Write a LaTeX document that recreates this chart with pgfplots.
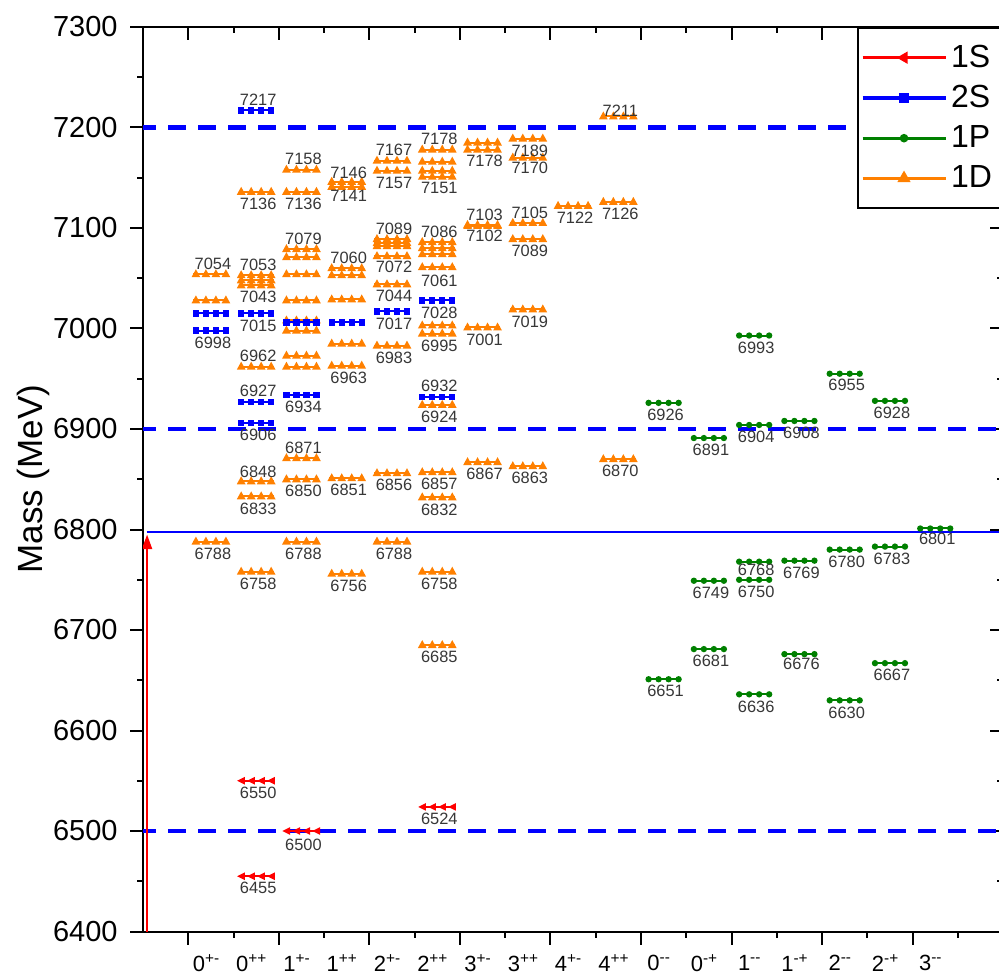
\documentclass[border=0pt]{standalone}
\usepackage{fontspec}
\setmainfont{Liberation Sans}
\usepackage{pgfplots}
\pgfplotsset{compat=1.18}
\usepackage{pgfplotstable}
\usetikzlibrary{arrows.meta}

\definecolor{cRed}{RGB}{255,0,0}
\definecolor{cBlue}{RGB}{0,0,255}
\definecolor{cGreen}{RGB}{0,128,0}
\definecolor{cOrange}{RGB}{255,128,0}
\definecolor{labgray}{RGB}{55,55,55}

\newcommand\labfont{\fontsize{8.2}{9}\selectfont}
\newcommand\lvline{\pgfsetlinewidth{1pt}\pgfpathmoveto{\pgfqpoint{-8.75pt}{0pt}}\pgfpathlineto{\pgfqpoint{8.75pt}{0pt}}\pgfusepathqstroke}
\newcommand\lvtri[1]{\pgfpathmoveto{\pgfpoint{#1pt-2.2pt}{-1.5pt}}\pgfpathlineto{\pgfpoint{#1pt+2.2pt}{-1.5pt}}\pgfpathlineto{\pgfpoint{#1pt}{2.5pt}}\pgfpathclose\pgfusepathqfill}
\newcommand\lvsq[1]{\pgfpathrectangle{\pgfpoint{#1pt-1.6pt}{-1.6pt}}{\pgfqpoint{3.2pt}{3.2pt}}\pgfusepathqfill}
\newcommand\lvci[1]{\pgfpathcircle{\pgfpoint{#1pt}{0pt}}{1.6pt}\pgfusepathqfill}
\newcommand\lvtl[1]{\pgfpathmoveto{\pgfpoint{#1pt-2.0pt}{0pt}}\pgfpathlineto{\pgfpoint{#1pt+1.8pt}{1.9pt}}\pgfpathlineto{\pgfpoint{#1pt+1.8pt}{-1.9pt}}\pgfpathclose\pgfusepathqfill}
\pgfdeclareplotmark{lvD}{\lvline\lvtri{-7.5}\lvtri{-2.5}\lvtri{2.5}\lvtri{7.5}}
\pgfdeclareplotmark{lvS}{\lvline\lvsq{-7.5}\lvsq{-2.5}\lvsq{2.5}\lvsq{7.5}}
\pgfdeclareplotmark{lvP}{\lvline\lvci{-7.5}\lvci{-2.5}\lvci{2.5}\lvci{7.5}}
\pgfdeclareplotmark{lvR}{\lvline\lvtl{-7.5}\lvtl{-2.5}\lvtl{2.5}\lvtl{7.5}}

% ---- 1D levels (x = category index, y = mass in MeV)
\pgfplotstableread{
x y
1 7054
1 7028
1 6788
2 7136
2 7053
2 7048
2 7043
2 6962
2 6848
2 6833
2 6758
3 7158
3 7136
3 7079
3 7071
3 7054
3 7028
3 7008
3 6998
3 6973
3 6962
3 6871
3 6850
3 6788
4 7146
4 7141
4 7060
4 7053
4 7029
4 6985
4 6963
4 6851
4 6756
5 7167
5 7157
5 7089
5 7085
5 7082
5 7072
5 7044
5 6983
5 6856
5 6788
6 7178
6 7166
6 7157
6 7151
6 7086
6 7080
6 7074
6 7061
6 7003
6 6995
6 6924
6 6857
6 6832
6 6758
6 6685
7 7185
7 7178
7 7103
7 7102
7 7001
7 6867
8 7189
8 7170
8 7105
8 7089
8 7019
8 6863
9 7122
10 7211
10 7126
10 6870
}\tabD
% labelled 1D levels; off = label offset in MeV
\pgfplotstableread{
x y off
1 7054 10.5
1 6788 -12
2 7136 -12
2 7053 10.5
2 7043 -12
2 6962 10.5
2 6848 9
2 6833 -12
2 6758 -12
3 7158 10.5
3 7136 -12
3 7079 10.5
3 6871 10.5
3 6850 -12
3 6788 -12
4 7146 9
4 7141 -9
4 7060 10.5
4 6963 -12
4 6851 -12
4 6756 -12
5 7167 10.5
5 7157 -12
5 7089 10.5
5 7072 -10.5
5 7044 -12
5 6983 -12
5 6856 -12
5 6788 -12
6 7178 10.5
6 7151 -11
6 7086 10.5
6 7061 -14
6 6995 -12
6 6924 -12
6 6857 -12
6 6832 -12
6 6758 -12
6 6685 -12
7 7178 -11
7 7103 10.5
7 7102 -10
7 7001 -12
7 6867 -12
8 7189 -12
8 7170 -10.5
8 7105 10.5
8 7089 -12
8 7019 -12
8 6863 -12
9 7122 -12
10 7211 6
10 7126 -12
10 6870 -12
}\labD

% ---- 2S levels
\pgfplotstableread{
x y
1 7015
1 6998
2 7217
2 7015
2 6927
2 6906
3 7006
3 6934
4 7006
5 7017
6 7028
6 6932
}\tabS
\pgfplotstableread{
x y off
1 6998 -12
2 7217 10.5
2 7015 -12
2 6927 10.5
2 6906 -12
3 6934 -12
5 7017 -12
6 7028 -12
6 6932 10.5
}\labS

% ---- 1P levels
\pgfplotstableread{
x y off
11 6926 -12
11 6651 -12
12 6891 -12
12 6749 -12
12 6681 -12
13 6993 -12
13 6904 -12
13 6768 -8.4
13 6750 -12
13 6636 -12
14 6908 -12
14 6769 -12
14 6676 -10
15 6955 -11
15 6780 -12
15 6630 -12
16 6928 -12
16 6783 -12
16 6667 -12
17 6801 -10.5
}\tabP

% ---- 1S levels
\pgfplotstableread{
x y off
2 6550 -12
2 6455 -12
3 6500 -14
6 6524 -12
}\tabR

\pgfplotsset{
  labplot/.style={
    forget plot, only marks, mark=none,
    point meta=explicit symbolic,
    nodes near coords,
    every node near coord/.append style={anchor=center, xshift=1pt, text=labgray, font=\labfont, inner sep=0pt},
  },
  geom/.style={
    at={(71.5pt,22.25pt)}, anchor=south west,
    x=22.635pt, y=0.5025pt,
    xmin=-0.5, xmax=18.5, ymin=6400, ymax=7300,
    xtick={0.5,2.5,...,16.5}, minor xtick={1.5,3.5,...,17.5},
    ytick={6400,6500,...,7300}, minor y tick num=1,
    major tick length=6.5pt, minor tick length=3pt,
    every tick/.style={black, line width=1pt},
  },
}

\begin{document}
\begin{tikzpicture}
\path[use as bounding box] (0,0) rectangle (499.5pt,488pt);
% top/right ticks pointing inwards
\begin{axis}[geom, xtick pos=right, ytick pos=right, tick align=inside,
  xticklabels={}, yticklabels={}, axis line style={draw=none}]
\end{axis}
\begin{axis}[geom, xtick pos=left, ytick pos=left, tick align=outside,
  axis line style={line width=1pt},
  xticklabels={},
  extra x ticks={1,...,17},
  extra x tick labels={0\textsuperscript{+-},0\textsuperscript{++},1\textsuperscript{+-},1\textsuperscript{++},2\textsuperscript{+-},2\textsuperscript{++},3\textsuperscript{+-},3\textsuperscript{++},4\textsuperscript{+-},4\textsuperscript{++},0\textsuperscript{-{}-},0\textsuperscript{-+},1\textsuperscript{-{}-},1\textsuperscript{-+},2\textsuperscript{-{}-},2\textsuperscript{-+},3\textsuperscript{-{}-}},
  extra x tick style={major tick length=0pt, xticklabel style={anchor=north, inner sep=0pt, yshift=-11.5pt, xshift=-2.2pt, font=\fontsize{11}{13}\selectfont}},
  yticklabel style={anchor=east, inner sep=0pt, xshift=-6pt, font=\fontsize{14.5}{17}\selectfont},
  /pgf/number format/.cd, set thousands separator={}, assume math mode=true, /pgfplots/.cd,
  ylabel={Mass (MeV)},
  ylabel style={at={(axis description cs:-0.1174,0.5)}, anchor=base, font=\fontsize{17.5}{20}\selectfont},
  legend style={at={(0.830,1)}, anchor=north west, draw=black, line width=1pt, fill=white,
    inner xsep=1.5pt, inner ysep=6.5pt, font=\fontsize{16}{16}\selectfont,
    row sep=3.5pt},
  legend cell align=left,
  legend image code/.code={\draw[mark repeat=2, mark phase=2] plot coordinates {(0pt,0pt) (20.75pt,0pt) (41.5pt,0pt)};},
]
\addlegendimage{cRed, line width=1.6pt, mark=triangle*, mark size=2pt, mark options={rotate=90}}
\addlegendentry{\makebox[34pt][l]{1S}}
\addlegendimage{cBlue, line width=1.6pt, mark=square*, mark size=1.5pt}
\addlegendentry{\makebox[34pt][l]{2S}}
\addlegendimage{cGreen, line width=1.6pt, mark=*, mark size=1.3pt}
\addlegendentry{\makebox[34pt][l]{1P}}
\addlegendimage{cOrange, line width=1.6pt, mark=triangle*, mark size=2.2pt}
\addlegendentry{\makebox[34pt][l]{1D}}

\addplot[only marks, forget plot, mark=lvD, color=cOrange] table[x=x, y=y] {\tabD};
\addplot[only marks, forget plot, mark=lvP, color=cGreen] table[x=x, y=y] {\tabP};
\addplot[only marks, forget plot, mark=lvS, color=cBlue] table[x=x, y=y] {\tabS};
\addplot[only marks, forget plot, mark=lvR, color=cRed] table[x=x, y=y] {\tabR};

\addplot[labplot] table[x=x, y expr=\thisrow{y}+\thisrow{off}, meta=y] {\labD};
\addplot[labplot] table[x=x, y expr=\thisrow{y}+\thisrow{off}, meta=y] {\tabP};
\addplot[labplot] table[x=x, y expr=\thisrow{y}+\thisrow{off}, meta=y] {\labS};
\addplot[labplot] table[x=x, y expr=\thisrow{y}+\thisrow{off}, meta=y] {\tabR};

\addplot[cBlue, line width=2.2pt, dash pattern=on 8.75pt off 6.25pt, dash phase=2.5pt, forget plot] coordinates {(-0.5,7200) (18.5,7200)};
\addplot[cBlue, line width=2.2pt, dash pattern=on 8.75pt off 6.25pt, dash phase=2.5pt, forget plot] coordinates {(-0.5,6900) (18.5,6900)};
\addplot[cBlue, line width=2.2pt, dash pattern=on 8.75pt off 6.25pt, dash phase=2.5pt, forget plot] coordinates {(-0.5,6500) (18.5,6500)};
\addplot[cBlue, line width=1pt, forget plot] coordinates {(-0.42,6798) (18.5,6798)};
\addplot[cRed, line width=1pt, -{Triangle[length=7.3pt, width=5pt]}, forget plot] coordinates {(-0.41,6400) (-0.41,6795)};
\end{axis}
\end{tikzpicture}
\end{document}
